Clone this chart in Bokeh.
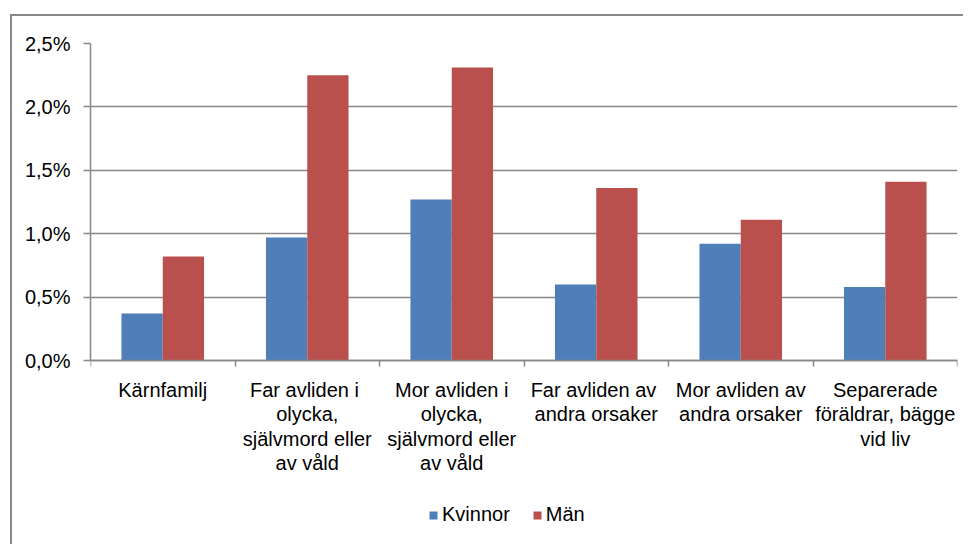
from bokeh.plotting import figure
from bokeh.models import ColumnDataSource, FixedTicker, Legend, LegendItem, Range1d
from bokeh.embed import file_html
from bokeh.resources import INLINE

categories = [
    "Kärnfamilj",
    "Far  avliden i\nolycka,\nsjälvmord eller\nav våld",
    "Mor avliden i\nolycka,\nsjälvmord eller\nav våld",
    "Far  avliden av\nandra orsaker",
    "Mor avliden av\nandra orsaker",
    "Separerade\nföräldrar, bägge\nvid liv",
]
kvinnor = [0.37, 0.97, 1.27, 0.60, 0.92, 0.58]
man = [0.82, 2.25, 2.31, 1.36, 1.11, 1.41]
y_ticks = [0.0, 0.5, 1.0, 1.5, 2.0, 2.5]
y_tick_labels = ["0,0%", "0,5%", "1,0%", "1,5%", "2,0%", "2,5%"]

FONT = "Liberation Sans"
BLUE = "#4F7EB8"
RED = "#BA504D"
GRAY = "#888888"

n = len(categories)
centers = [i + 0.5 for i in range(n)]
bw = 1.0 / 3.5
src = ColumnDataSource(dict(
    xb=[c - bw / 2 for c in centers],
    xr=[c + bw / 2 for c in centers],
    kv=kvinnor, ma=man,
))

# frame extends below the value axis to hold category labels and legend
y_min = 2.5 - 487 / 126.8
p = figure(frame_width=867, frame_height=487, output_backend="svg", toolbar_location=None,
           x_range=Range1d(0, n), y_range=Range1d(y_min, 2.5),
           min_border_left=78, min_border_right=6, min_border_top=27, min_border_bottom=14)
p.styles = {"margin-left": "10px", "margin-top": "14px",
            "border-left": "2px solid #888888", "border-top": "2px solid #888888"}
p.outline_line_color = None
p.background_fill_color = "white"
p.border_fill_color = "white"

rb = p.vbar(x="xb", top="kv", width=bw, source=src, fill_color=BLUE, line_color=None)
rr = p.vbar(x="xr", top="ma", width=bw, source=src, fill_color=RED, line_color=None)

# x axis
p.xaxis.fixed_location = 0
p.xaxis.ticker = FixedTicker(ticks=centers, minor_ticks=list(range(n + 1)))
p.xaxis.major_label_overrides = {c: lab for c, lab in zip(centers, categories)}
p.xaxis.major_tick_line_color = None
p.xaxis.minor_tick_line_color = GRAY
p.xaxis.minor_tick_line_width = 1.5
p.xaxis.minor_tick_out = 6
p.xaxis.minor_tick_in = 0
p.xaxis.axis_line_color = GRAY
p.xaxis.axis_line_width = 1.5
p.xaxis.major_label_text_font = FONT
p.xaxis.major_label_text_font_size = "20px"
p.xaxis.major_label_text_color = "black"
p.xaxis.major_label_standoff = 12
p.xaxis.major_label_text_line_height = 1.12
p.xgrid.grid_line_color = None

# y axis
p.yaxis.bounds = (0, 2.5)
p.yaxis.ticker = FixedTicker(ticks=y_ticks, minor_ticks=[])
p.yaxis.major_label_overrides = {t: lab for t, lab in zip(y_ticks, y_tick_labels)}
p.yaxis.major_tick_line_color = GRAY
p.yaxis.major_tick_line_width = 1.5
p.yaxis.major_tick_out = 7
p.yaxis.major_tick_in = 0
p.yaxis.minor_tick_line_color = None
p.yaxis.axis_line_color = GRAY
p.yaxis.axis_line_width = 1.5
p.yaxis.major_label_text_font = FONT
p.yaxis.major_label_text_font_size = "20px"
p.yaxis.major_label_text_color = "black"
p.yaxis.major_label_standoff = 13
p.ygrid.grid_line_color = GRAY
p.ygrid.grid_line_width = 1.5

legend = Legend(items=[LegendItem(label="Kvinnor", renderers=[rb]),
                       LegendItem(label="Män", renderers=[rr])],
                orientation="horizontal", location=(338, 4))
legend.label_text_font = FONT
legend.label_text_font_size = "20px"
legend.label_text_color = "black"
legend.label_height = 14
legend.glyph_width = 10
legend.glyph_height = 10
legend.label_standoff = 4
legend.spacing = 22
legend.padding = 0
legend.margin = 0
legend.border_line_color = None
legend.background_fill_alpha = 0
p.add_layout(legend)

open("out.html", "w").write(file_html(p, INLINE))
